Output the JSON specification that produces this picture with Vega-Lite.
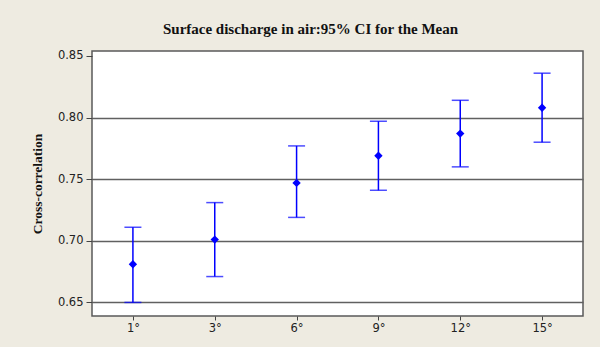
{
  "$schema": "https://vega.github.io/schema/vega-lite/v6.json",
  "autosize": "none",
  "width": 491,
  "height": 265,
  "padding": {"left": 92, "top": 51, "right": 17, "bottom": 31},
  "background": "#EEEBE1",
  "title": {
    "text": "Surface discharge in air:95% CI for the Mean",
    "font": "Liberation Serif",
    "fontSize": 15,
    "fontWeight": "bold",
    "color": "#111111",
    "anchor": "middle",
    "dx": -27,
    "offset": 13
  },
  "config": {
    "view": {"fill": "white", "stroke": "#5a5a5a", "strokeWidth": 1.5},
    "axis": {
      "labelFont": "DejaVu Sans",
      "labelFontSize": 11.5,
      "labelColor": "#222222",
      "tickColor": "#444444",
      "domain": false
    }
  },
  "data": {
    "values": [
      {"angle": "1°", "mean": 0.681, "lower": 0.650, "upper": 0.711},
      {"angle": "3°", "mean": 0.701, "lower": 0.671, "upper": 0.731},
      {"angle": "6°", "mean": 0.747, "lower": 0.719, "upper": 0.777},
      {"angle": "9°", "mean": 0.769, "lower": 0.741, "upper": 0.797},
      {"angle": "12°", "mean": 0.787, "lower": 0.760, "upper": 0.814},
      {"angle": "15°", "mean": 0.808, "lower": 0.780, "upper": 0.836}
    ]
  },
  "encoding": {
    "x": {
      "field": "angle",
      "type": "nominal",
      "sort": ["1°", "3°", "6°", "9°", "12°", "15°"],
      "scale": {"type": "point", "padding": 0.5},
      "axis": {
        "title": null,
        "labelAngle": 0,
        "tickSize": 4,
        "labelPadding": 2,
        "grid": false
      }
    }
  },
  "layer": [
    {
      "mark": {"type": "rule", "color": "#0000FF", "strokeWidth": 1.5},
      "encoding": {
        "y": {
          "field": "lower",
          "type": "quantitative",
          "scale": {"domain": [0.639, 0.854], "nice": false, "zero": false},
          "axis": {
            "title": "Cross-correlation",
            "titleFont": "Liberation Serif",
            "titleFontSize": 13.5,
            "titleFontWeight": "bold",
            "titleColor": "#111111",
            "titlePadding": 13,
            "values": [0.65, 0.70, 0.75, 0.80, 0.85],
            "format": ".2f",
            "tickSize": 6,
            "labelPadding": 3,
            "grid": true,
            "gridColor": {
              "condition": {"test": "datum.value > 0.849", "value": "transparent"},
              "value": "#606060"
            },
            "gridWidth": 1.3
          }
        },
        "y2": {"field": "upper"}
      }
    },
    {
      "mark": {"type": "tick", "orient": "horizontal", "color": "#0000FF", "size": 17, "thickness": 1.5},
      "encoding": {"y": {"field": "lower", "type": "quantitative"}}
    },
    {
      "mark": {"type": "tick", "orient": "horizontal", "color": "#0000FF", "size": 17, "thickness": 1.5},
      "encoding": {"y": {"field": "upper", "type": "quantitative"}}
    },
    {
      "mark": {"type": "point", "shape": "diamond", "filled": true, "color": "#0000FF", "size": 70, "opacity": 1},
      "encoding": {"y": {"field": "mean", "type": "quantitative"}}
    }
  ]
}
